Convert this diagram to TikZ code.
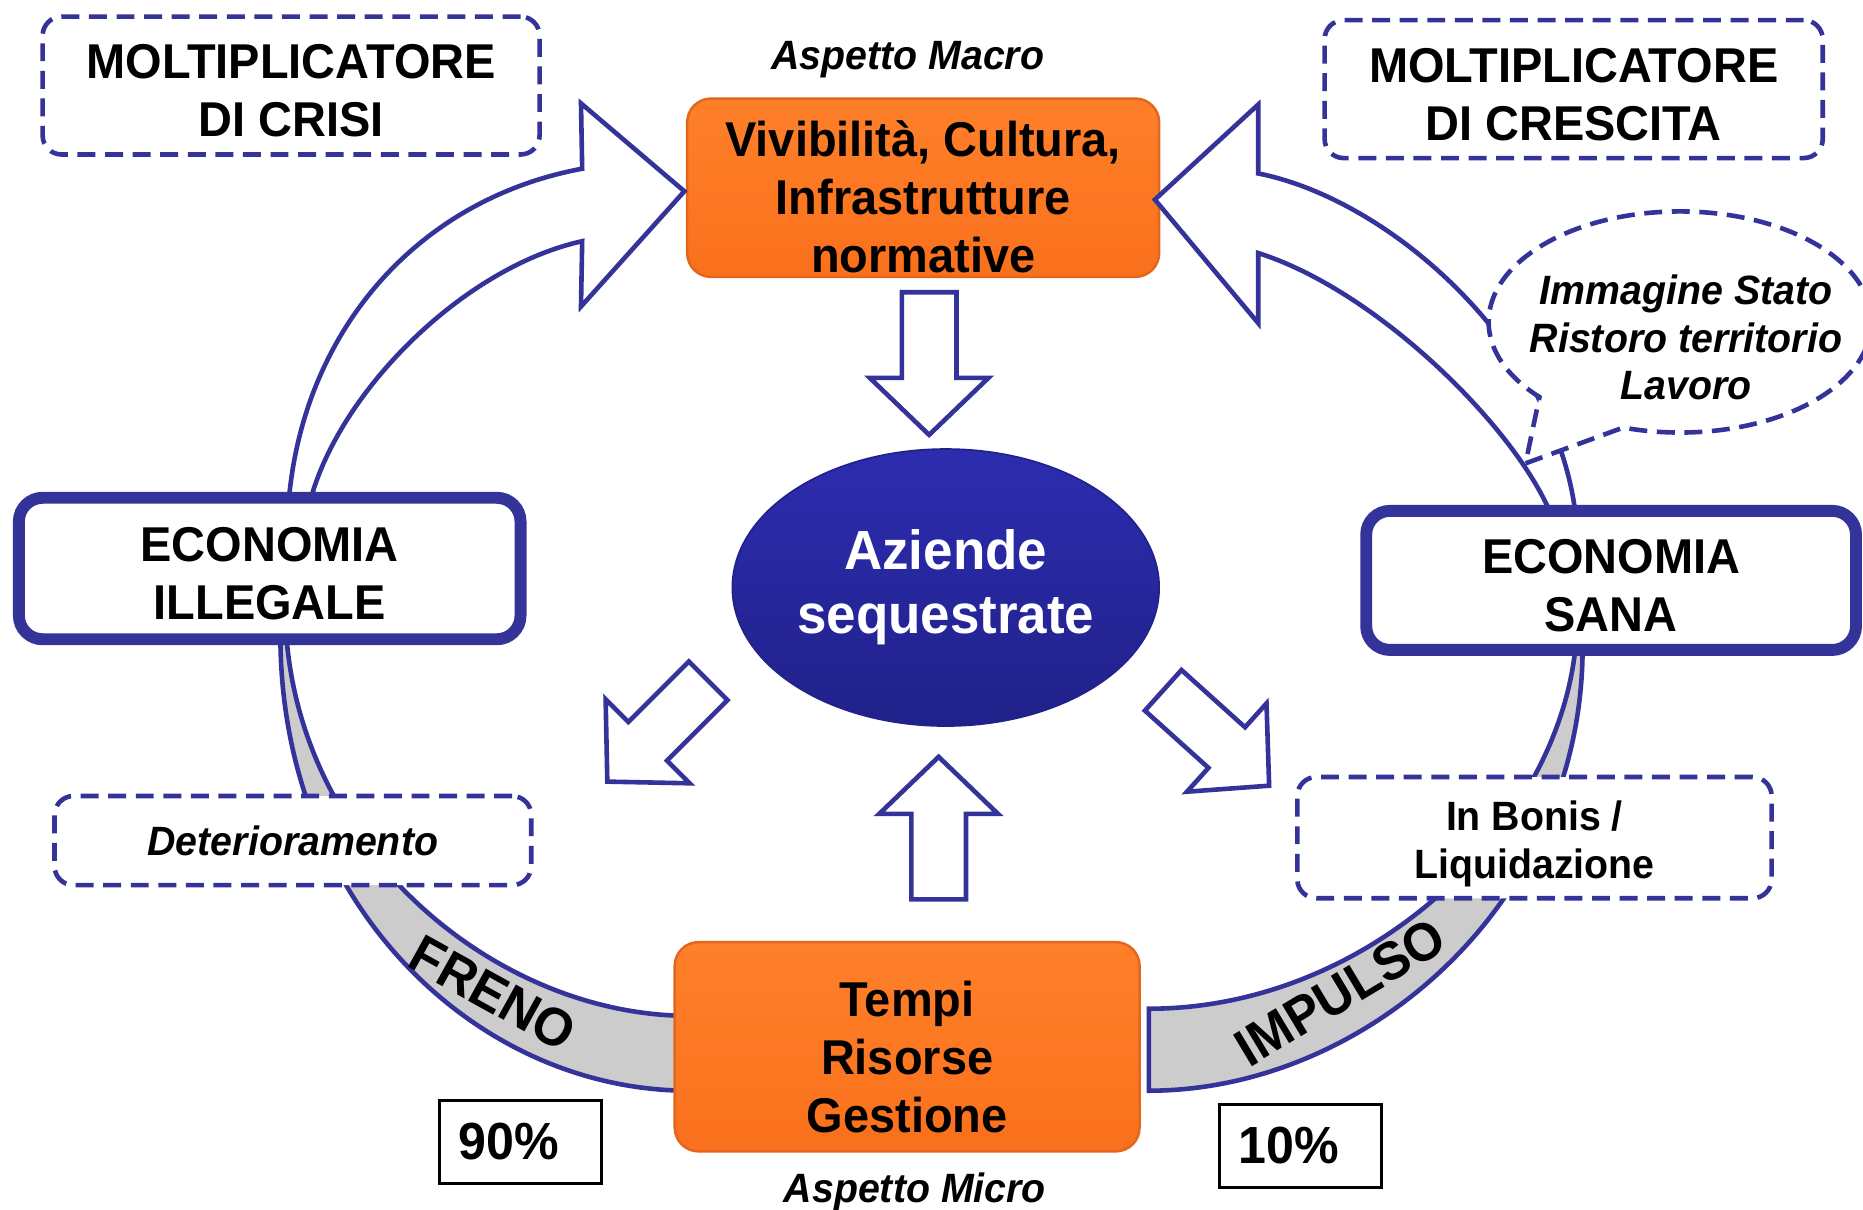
\documentclass[tikz,border=0pt]{standalone}
\usepackage{fontspec}
\setmainfont{Liberation Sans}[FakeStretch=0.96]
\usetikzlibrary{shapes.geometric,shapes.callouts}

\definecolor{navy}{RGB}{51,51,153}
\definecolor{orangetop}{RGB}{255,128,42}
\definecolor{orangebot}{RGB}{250,112,28}
\definecolor{orangeline}{RGB}{226,102,30}
\definecolor{ovaltop}{RGB}{44,44,176}
\definecolor{ovalbot}{RGB}{33,33,138}
\definecolor{bandgray}{RGB}{204,204,204}

\tikzset{
	bigfont/.style={font=\fontsize{11.7}{13.9}\selectfont\bfseries},
	midfont/.style={font=\fontsize{9.8}{11.4}\selectfont\bfseries},
	miditfont/.style={font=\fontsize{9.8}{11.4}\selectfont\bfseries\itshape},
	bandfont/.style={font=\fontsize{12.8}{14}\selectfont\bfseries},
	multbox/.style={draw=navy, line width=1.1pt, dash pattern=on 4.3pt off 2.3pt, rounded corners=0.16cm, fill=white, align=center, inner sep=0pt, bigfont},
	notebox/.style={multbox, midfont},
	ecobox/.style={draw=navy, line width=2.85pt, rounded corners=0.2cm, fill=white, align=center, inner sep=0pt, bigfont},
	orangebox/.style={draw=orangeline, line width=0.6pt, rounded corners=0.2cm, top color=orangetop, bottom color=orangebot, align=center, inner sep=0pt, bigfont},
	oval/.style={ellipse, draw=ovalbot, line width=0.4pt, top color=ovaltop, bottom color=ovalbot, text=white, font=\fontsize{13.2}{15.4}\selectfont\bfseries, align=center, inner sep=0pt},
	pctbox/.style={draw=black, line width=0.7pt, fill=white, font=\fontsize{12.5}{14}\selectfont\bfseries, minimum width=1.36cm, minimum height=0.70cm, text width=1.04cm, align=left, inner xsep=0.16cm, inner ysep=0pt},
	hollow/.style={draw=navy, line width=1.1pt, fill=white, line join=miter},
	band/.style={draw=navy, line width=1.1pt, fill=bandgray},
	bubble/.style={ellipse callout, draw=navy, line width=1.1pt, dash pattern=on 4.3pt off 2.3pt, fill=white, inner sep=0pt},
	blockarrow/.pic={\draw[hollow] (0,-23) -- (72,-23) -- (72,-50) -- (120,0) -- (72,50) -- (72,23) -- (0,23) -- cycle;}
}

\begin{document}
\begin{tikzpicture}[x=0.01cm, y=-0.01cm]
		\fill[white] (0,0) rectangle (1568,1018);
		\useasboundingbox (0,0) rectangle (1568,1018);

		\draw[band] (236,535) .. controls (236,760) and (400,918) .. (580,918) -- (580,855) .. controls (420,855) and (255,720) .. (241,535) -- cycle;
		\draw[band] (1332,545) .. controls (1332,760) and (1150,918) .. (967,918) -- (967,849) .. controls (1150,849) and (1310,700) .. (1326,545) -- cycle;

		\node[orangebox, minimum width=3.97cm, minimum height=1.50cm] (macro) at (777,158) {\rule{0pt}{13pt}Vivibilità, Cultura,\\Infrastrutture\\normative};
		\node[orangebox, minimum width=3.91cm, minimum height=1.76cm] (micro) at (763.5,881) {\rule{0pt}{13.5pt}Tempi\\Risorse\\Gestione};

		\draw[hollow] (243,422) .. controls (255,280) and (350,168) .. (490,142) -- (489,87) -- (576,161) -- (489,258) -- (490,203) .. controls (390,225) and (285,330) .. (261,422) -- cycle;
		\draw[hollow] (1326,432) .. controls (1308,290) and (1170,168) .. (1059,146) -- (1059,88) -- (972,168) -- (1059,272) -- (1059,213) .. controls (1160,245) and (1275,360) .. (1305,432) -- cycle;

		\node[ecobox, minimum width=4.22cm, minimum height=1.19cm] (illegale) at (227,478.5) {\rule{0pt}{10.7pt}ECONOMIA\\ILLEGALE};
		\node[ecobox, minimum width=4.12cm, minimum height=1.17cm] (sana) at (1356,488.5) {\rule{0pt}{10.7pt}ECONOMIA\\SANA};

		\node[multbox, minimum width=4.18cm, minimum height=1.16cm] (crisi) at (245,72) {\rule{0pt}{10.7pt}MOLTIPLICATORE\\DI CRISI};
		\node[multbox, minimum width=4.19cm, minimum height=1.16cm] (crescita) at (1324.5,75) {\rule{0pt}{11pt}MOLTIPLICATORE\\DI CRESCITA};
		\node[notebox, miditfont, minimum width=4.01cm, minimum height=0.75cm] (deter) at (246.5,707.5) {Deterioramento};
		\node[notebox, minimum width=3.99cm, minimum height=1.02cm] (bonis) at (1291.5,705) {\rule{0pt}{10pt}In Bonis /\\Liquidazione};

		\node[bubble, minimum width=3.22cm, minimum height=1.86cm, callout absolute pointer={(1284,390)}, callout pointer arc=30] (nuvola) at (1414,271) {};
		\node[miditfont, align=center] (nuvolatxt) at (1419,284) {Immagine Stato\\Ristoro territorio\\Lavoro};

		\node[oval, minimum width=3.59cm, minimum height=2.33cm] (aziende) at (796,494.5) {Aziende\\sequestrate};

		\pic[rotate=-90] at (782,246) {blockarrow};
		\pic[rotate=90] at (790,757) {blockarrow};
		\pic[rotate=-135] at (596,573) {blockarrow};
		\pic[rotate=-42] at (979,581) {blockarrow};

		\node[bandfont, rotate=-29] (freno) at (415,836) {FRENO};
		\node[bandfont, rotate=31] (impulso) at (1128,835) {IMPULSO};

		\node[pctbox] (novanta) at (438,961) {90\%};
		\node[pctbox] (dieci) at (1094.5,964.5) {10\%};

		\node[miditfont] (aspmacro) at (764,50) {Aspetto Macro};
		\node[miditfont] (aspmicro) at (770,1003) {Aspetto Micro};

	\end{tikzpicture}
\end{document}
